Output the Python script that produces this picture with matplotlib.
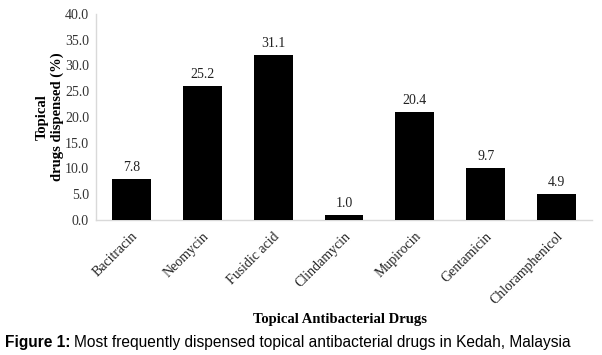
import matplotlib
matplotlib.use("Agg")
import matplotlib.pyplot as plt
import numpy as np

drugs = ["Bacitracin", "Neomycin", "Fusidic acid", "Clindamycin",
         "Mupirocin", "Gentamicin", "Chloramphenicol"]
# bar heights as drawn in the figure, and the value labels printed above them
bar_heights = [8.0, 26.0, 32.0, 1.0, 21.0, 10.0, 5.0]
value_labels = ["7.8", "25.2", "31.1", "1.0", "20.4", "9.7", "4.9"]
yticks = [0, 5, 10, 15, 20, 25, 30, 35, 40]

SERIF = "Liberation Serif"
SANS = "Liberation Sans"
GRID = "#d9d9d9"

fig = plt.figure(figsize=(6.02, 3.55), dpi=100)
ax = fig.add_axes([96/602, 1 - 220/355, (592-96)/602, (220-14)/355])

x = np.arange(len(drugs))
bars = ax.bar(x, bar_heights, width=0.55, color="black", zorder=3)
for b, lab in zip(bars, value_labels):
    ax.text(b.get_x() + b.get_width()/2, b.get_height() + 1.0, lab,
            ha="center", va="bottom", fontsize=10, family=SERIF, color="#222222")

ax.set_xlim(-0.5, len(drugs) - 0.5)
ax.set_ylim(0, 40)
ax.set_yticks(yticks)
ax.set_yticklabels(["%.1f" % v for v in yticks], family=SERIF, fontsize=10, color="#333333")
ax.set_xticks(x)
ax.set_xticklabels(drugs, rotation=45, ha="right", rotation_mode="anchor",
                   family=SERIF, fontsize=10, color="#222222")
ax.tick_params(axis="both", length=0, pad=5)
ax.tick_params(axis="x", pad=7)
for s in ("top", "right"):
    ax.spines[s].set_visible(False)
for s in ("left", "bottom"):
    ax.spines[s].set_color(GRID)
    ax.spines[s].set_linewidth(1.0)

fig.text(50/602, 1 - 117/355, "Topical\ndrugs dispensed (%)", rotation=90,
         ha="center", va="center", family=SERIF, fontweight="bold", fontsize=10.5,
         multialignment="center", linespacing=1.15)
fig.text(340/602, 1 - 320/355, "Topical Antibacterial Drugs", ha="center", va="center",
         family=SERIF, fontweight="bold", fontsize=10.5)

t = fig.text(5/602, 1 - 342/355, "Figure 1:", ha="left", va="center",
             family=SANS, fontweight="bold", fontsize=11.2)
fig.canvas.draw()
bb = t.get_window_extent()
fig.text(bb.x1/602 + 3/602, 1 - 342/355, "Most frequently dispensed topical antibacterial drugs in Kedah, Malaysia",
         ha="left", va="center", family=SANS, fontsize=11.2)

fig.savefig("out.png", dpi=100, facecolor="white")
